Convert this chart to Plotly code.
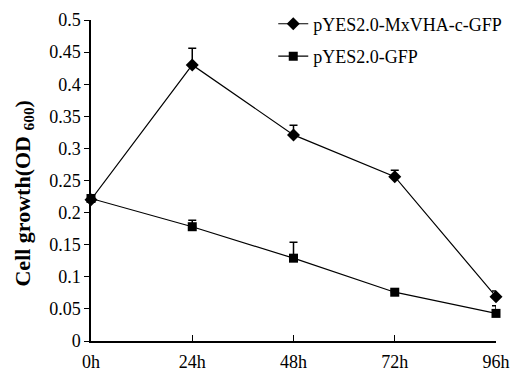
import plotly.graph_objects as go

hours = [0, 24, 48, 72, 96]
tick_labels = ["0h", "24h", "48h", "72h", "96h"]
mxvha = [0.220, 0.430, 0.321, 0.256, 0.069]
mxvha_err = [0.004, 0.026, 0.015, 0.010, 0.009]
gfp = [0.222, 0.178, 0.129, 0.076, 0.043]
gfp_err = [0.004, 0.010, 0.025, 0.003, 0.012]
y_ticks = [0, 0.05, 0.1, 0.15, 0.2, 0.25, 0.3, 0.35, 0.4, 0.45, 0.5]
y_tick_text = ["0", "0.05", "0.1", "0.15", "0.2", "0.25", "0.3", "0.35", "0.4", "0.45", "0.5"]

font = "Liberation Serif, Times New Roman, serif"

fig = go.Figure()
fig.add_trace(go.Scatter(
    x=hours, y=mxvha, name="pYES2.0-MxVHA-c-GFP", mode="lines+markers",
    line=dict(color="black", width=1.2),
    marker=dict(symbol="diamond", size=10, color="black"),
    error_y=dict(type="data", symmetric=False, array=mxvha_err,
                 arrayminus=[0]*5, color="black", thickness=1.5, width=4),
    cliponaxis=False, legendgroup="a"))
fig.add_trace(go.Scatter(
    x=hours, y=gfp, name="pYES2.0-GFP", mode="lines+markers",
    line=dict(color="black", width=1.2),
    marker=dict(symbol="square", size=9, color="black"),
    error_y=dict(type="data", symmetric=False, array=gfp_err,
                 arrayminus=[0]*5, color="black", thickness=1.5, width=4),
    cliponaxis=False, legendgroup="b"))

fig.update_layout(
    width=515, height=372,
    margin=dict(l=91, r=19, t=20, b=31, autoexpand=False),
    paper_bgcolor="white", plot_bgcolor="white",
    font=dict(family=font, size=18, color="black"),
    showlegend=True,
    legend=dict(x=0.45, y=1.045, xanchor="left", yanchor="top",
                bgcolor="rgba(0,0,0,0)", font=dict(size=18),
                tracegroupgap=6, traceorder="grouped"),
    xaxis=dict(range=[0, 96], tickvals=hours, ticktext=tick_labels,
               showline=True, linecolor="black", linewidth=1.5,
               ticks="inside", ticklen=6, tickcolor="black", automargin=False,
               ticklabelstandoff=4,
               showgrid=False, zeroline=False, tickfont=dict(size=18)),
    yaxis=dict(range=[0, 0.5], tickvals=y_ticks, ticktext=y_tick_text,
               showline=True, linecolor="black", linewidth=1.5,
               ticks="outside", ticklen=5, tickcolor="black", automargin=False,
               showgrid=False, zeroline=False, tickfont=dict(size=18)),
    annotations=[dict(text="<b>Cell growth(OD <sub>600</sub>)</b>",
                      textangle=-90, xref="paper", yref="paper",
                      x=-0.165, y=0.46, xanchor="center", yanchor="middle",
                      showarrow=False, font=dict(size=22))],
)

fig.write_html("out.html")
